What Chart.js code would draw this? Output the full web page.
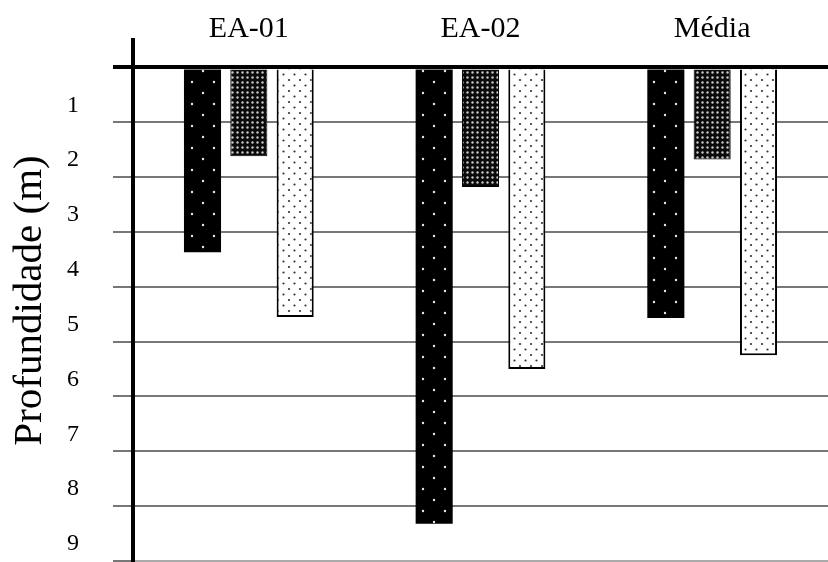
<html>

<head>
  <meta charset="utf-8">
  <title>Profundidade</title>
  <script src="https://cdn.jsdelivr.net/npm/chart.js"></script>
  <style>
    body {
      margin: 0;
      background: #fff;
    }

    #box {
      width: 828px;
      height: 562px;
    }
  </style>
</head>

<body>
  <div id="box">
    <canvas id="depthChart"></canvas>
  </div>

  <script>
    // dados
    const categorias = ["EA-01", "EA-02", "Média"];
    const serie1 = [3.37, 8.32, 4.57];
    const serie2 = [1.62, 2.18, 1.68];
    const serie3 = [4.55, 5.5, 5.25];
    const yTicks = [0, 1, 2, 3, 4, 5, 6, 7, 8, 9];

    const fonte = "'Liberation Serif', 'DejaVu Serif', serif";

    function makePattern(w, h, bg, dotColor, dots, r) {
      const c = document.createElement('canvas');
      c.width = w;
      c.height = h;
      const g = c.getContext('2d');
      g.fillStyle = bg;
      g.fillRect(0, 0, w, h);
      g.fillStyle = dotColor;
      dots.forEach(d => {
        g.beginPath();
        g.arc(d[0], d[1], r, 0, Math.PI * 2);
        g.fill();
      });
      return g.createPattern(c, 'repeat');
    }

    const ctx = document.getElementById('depthChart').getContext('2d');
    const pretoPontos = makePattern(22, 22, '#000', '#e8e8e8', [[5, 5], [16, 16]], 1.2);
    const cinzaPontos = makePattern(5, 5, '#0a0a0a', '#c8c8c8', [[2.5, 2.5]], 1.2);
    const brancoPontos = makePattern(11, 11, '#fff', '#333', [[3, 3], [8.5, 8.5]], 1.1);

    new Chart(ctx, {
      type: 'bar',
      data: {
        labels: categorias,
        datasets: [
          { label: 'Série 1', data: serie1, backgroundColor: pretoPontos, borderWidth: 0 },
          { label: 'Série 2', data: serie2, backgroundColor: cinzaPontos, borderColor: '#000', borderWidth: 1 },
          { label: 'Série 3', data: serie3, backgroundColor: brancoPontos, borderColor: '#000', borderWidth: 2 }
        ]
      },
      options: {
        responsive: true,
        maintainAspectRatio: false,
        animation: false,
        layout: { padding: { top: 0, right: 0, left: 0, bottom: 1 } },
        datasets: {
          bar: { categoryPercentage: 0.6, barPercentage: 0.8 }
        },
        plugins: {
          legend: { display: false },
          tooltip: { enabled: false }
        },
        scales: {
          x: {
            position: 'top',
            grid: { display: false, drawTicks: false },
            border: { display: false },
            ticks: {
              color: '#000',
              padding: -7,
              font: { family: fonte, size: 30 }
            },
            afterFit: s => {
              s.height = 40;
              s.paddingLeft = 0;
              s.paddingRight = 0;
            }
          },
          y: {
            reverse: true,
            min: -0.5,
            max: 9,
            afterBuildTicks: s => { s.ticks = yTicks.map(v => ({ value: v })); },
            grid: {
              color: c => c.tick && c.tick.value === 0 ? '#000' : (c.tick && c.tick.value === 9 ? '#aaa' : '#777'),
              lineWidth: c => c.tick && c.tick.value === 0 ? 4 : 2,
              tickColor: c => c.tick && c.tick.value === 0 ? '#000' : '#777',
              tickWidth: c => c.tick && c.tick.value === 0 ? 4 : 2,
              tickLength: 20
            },
            border: { display: true, color: '#000', width: 4 },
            ticks: {
              color: '#000',
              padding: 34,
              labelOffset: -17,
              font: { family: fonte, size: 24 },
              callback: v => v === 0 ? '' : v
            },
            title: {
              display: true,
              text: 'Profundidade (m)',
              color: '#000',
              padding: { top: 6, bottom: 0 },
              font: { family: fonte, size: 41 }
            },
            afterFit: s => {
              s.width = 133;
              s.paddingTop = 0;
              s.paddingBottom = 0;
            }
          }
        }
      }
    });
  </script>
</body>

</html>
